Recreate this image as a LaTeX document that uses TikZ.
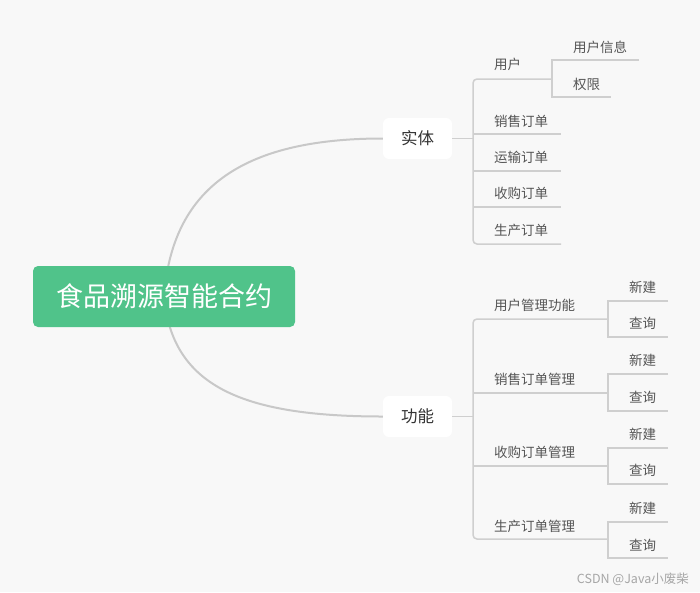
\documentclass[tikz,border=0pt]{standalone}
\usepackage{fontspec}
\setmainfont{Noto Sans CJK SC}
\usetikzlibrary{backgrounds}
\definecolor{bgc}{HTML}{F8F8F8}
\definecolor{rootc}{HTML}{50C38A}
\definecolor{linec}{HTML}{CFCFCF}
\definecolor{curvec}{HTML}{C8C8C8}
\definecolor{txtc}{HTML}{555555}
\definecolor{mainc}{HTML}{333333}
\tikzset{
  rootbox/.style={fill=rootc, rounded corners=5pt, minimum width=262pt, minimum height=61pt, text=white, font=\fontsize{27}{30}\selectfont, inner sep=0pt},
  midbox/.style={fill=white, rounded corners=6pt, minimum width=69pt, minimum height=41pt, text=mainc, font=\fontsize{16.5}{19}\selectfont, inner sep=0pt},
  leaf/.style={anchor=west, text=txtc, font=\fontsize{13.5}{16}\selectfont, inner sep=0pt},
  curve/.style={draw=curvec, line width=2pt},
  branch/.style={draw=linec, line width=1.5pt}
}
\begin{document}
\begin{tikzpicture}[x=1pt,y=-1pt]
\useasboundingbox (0,0) rectangle (700,592);
% nodes
\node[rootbox] (root) at (164,296.5) {食品溯源智能合约};
\node[midbox] (shiti) at (417.5,138.5) {实体};
\node[midbox] (gongneng) at (417.5,416.5) {功能};
% 实体 branch labels
\node[leaf] (yh) at (494,64) {用户};
\node[leaf] (yhxx) at (573,47) {用户信息};
\node[leaf] (qx) at (573,84) {权限};
\node[leaf] (xsdd) at (494,121) {销售订单};
\node[leaf] (ysdd) at (494,157) {运输订单};
\node[leaf] (sgdd) at (494,193) {收购订单};
\node[leaf] (scdd) at (494,230) {生产订单};
% 功能 branch labels
\node[leaf] (yhgl) at (494,305) {用户管理功能};
\node[leaf] (xj1) at (629,287) {新建};
\node[leaf] (cx1) at (629,323) {查询};
\node[leaf] (xsgl) at (494,379) {销售订单管理};
\node[leaf] (xj2) at (629,360) {新建};
\node[leaf] (cx2) at (629,397) {查询};
\node[leaf] (sggl) at (494,452) {收购订单管理};
\node[leaf] (xj3) at (629,434) {新建};
\node[leaf] (cx3) at (629,470) {查询};
\node[leaf] (scgl) at (494,526) {生产订单管理};
\node[leaf] (xj4) at (629,508) {新建};
\node[leaf] (cx4) at (629,545) {查询};
\node[anchor=east, text=black!35, font=\fontsize{12.5}{14}\selectfont, inner sep=0pt] (wm) at (689,579) {CSDN @Java小废柴};
% coordinates for brackets
\coordinate (sj) at (473,138.5);
\coordinate (gn) at (473,416.5);
\begin{scope}[on background layer]
\fill[bgc] (0,0) rectangle (700,592);
\draw[curve] (root.center) .. controls (172,190) and (240,138.5) .. (shiti.west);
\draw[curve] (root.center) .. controls (172,385) and (240,416.5) .. (gongneng.west);
\end{scope}
% 实体 bracket
\draw[branch] (shiti.east) -- (sj);
\draw[branch, rounded corners=4pt] (552,79) -- (473,79) -- (473,244) -- (561,244);
\draw[branch] (473,134) -- (561,134);
\draw[branch] (473,171) -- (561,171);
\draw[branch] (473,207) -- (561,207);
\draw[branch] (639,60) -- (552,60) -- (552,97) -- (611,97);
% 功能 bracket
\draw[branch] (gongneng.east) -- (gn);
\draw[branch, rounded corners=4pt] (608,319) -- (473,319) -- (473,539) -- (608,539);
\draw[branch] (473,393) -- (608,393);
\draw[branch] (473,466) -- (608,466);
\foreach \a/\b in {301/337, 374/411, 448/484, 522/558}{
  \draw[branch] (668,\a) -- (608,\a) -- (608,\b) -- (668,\b);
}
\end{tikzpicture}
\end{document}
